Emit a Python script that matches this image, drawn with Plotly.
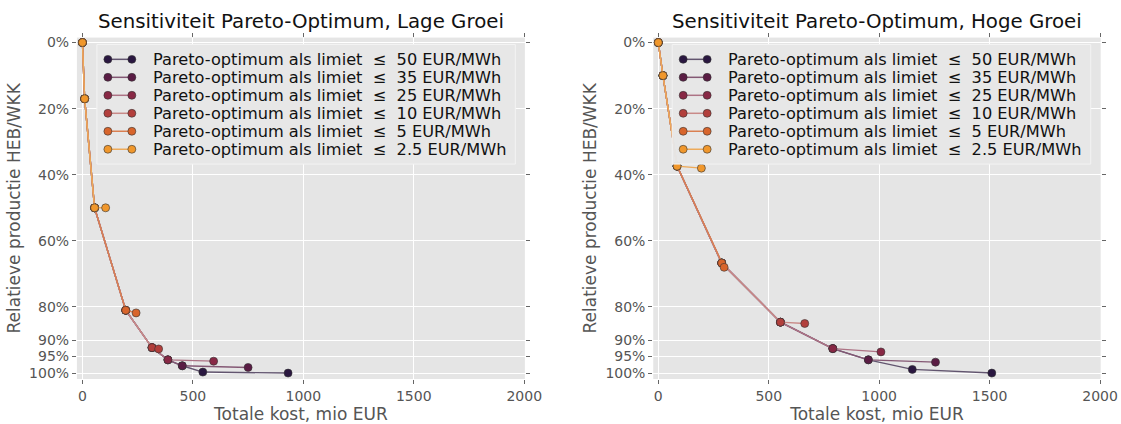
import plotly.graph_objects as go

labels = [
    "Pareto-optimum als limiet\u00a0 \u2264\u00a0 50 EUR/MWh",
    "Pareto-optimum als limiet\u00a0 \u2264\u00a0 35 EUR/MWh",
    "Pareto-optimum als limiet\u00a0 \u2264\u00a0 25 EUR/MWh",
    "Pareto-optimum als limiet\u00a0 \u2264\u00a0 10 EUR/MWh",
    "Pareto-optimum als limiet\u00a0 \u2264\u00a0 5 EUR/MWh",
    "Pareto-optimum als limiet\u00a0 \u2264\u00a0 2.5 EUR/MWh",
]
marker_colors = ["#2a1740", "#5a1c44", "#882845", "#b23f3c", "#d8652c", "#f0972c"]
line_colors = ["#62556f", "#845874", "#ad7385", "#c98a88", "#da7f51", "#edaa5a"]

# Lage Groei: cost (mio EUR) and relative production (%)
low_cost = [
    [0, 10, 55, 196, 315, 387, 452, 545, 931],
    [0, 10, 55, 196, 315, 387, 452, 750],
    [0, 10, 55, 196, 315, 387, 594],
    [0, 10, 55, 196, 315, 345],
    [0, 10, 55, 196, 243],
    [0, 10, 55, 105],
]
low_prod = [
    [0, 17, 50, 81, 92.3, 96, 97.8, 99.7, 100],
    [0, 17, 50, 81, 92.3, 96, 97.8, 98.3],
    [0, 17, 50, 81, 92.3, 96, 96.4],
    [0, 17, 50, 81, 92.3, 92.7],
    [0, 17, 50, 81, 81.8],
    [0, 17, 50, 50],
]

# Hoge Groei
high_cost = [
    [0, 21, 85, 287, 553, 790, 951, 1150, 1510],
    [0, 21, 85, 287, 553, 790, 951, 1255],
    [0, 21, 85, 287, 553, 790, 1008],
    [0, 21, 85, 287, 553, 663],
    [0, 21, 85, 287, 298],
    [0, 21, 85, 195],
]
high_prod = [
    [0, 10, 37.4, 66.7, 84.6, 92.6, 96, 98.9, 100],
    [0, 10, 37.4, 66.7, 84.6, 92.6, 96, 96.7],
    [0, 10, 37.4, 66.7, 84.6, 92.6, 93.6],
    [0, 10, 37.4, 66.7, 84.6, 85],
    [0, 10, 37.4, 66.7, 68],
    [0, 10, 37.4, 38],
]

titles = ["Sensitiviteit Pareto-Optimum, Lage Groei", "Sensitiviteit Pareto-Optimum, Hoge Groei"]
y_ticks = [0, 20, 40, 60, 80, 90, 95, 100]
y_ticklabels = ["0%", "20%", "40%", "60%", "80%", "90%", "95%", "100%"]
x_ticks = [0, 500, 1000, 1500, 2000]

FONT = "DejaVu Sans"
W, H = 1121, 424
SX = 0.986  # observed horizontal compression of the photographed page


def fx(px):
    return px / SX / W


def fy(py):
    return 1 - py / H


fig = go.Figure()

for panel, (costs, prods) in enumerate([(low_cost, low_prod), (high_cost, high_prod)]):
    xa = "x" if panel == 0 else "x2"
    ya = "y" if panel == 0 else "y2"
    for i in range(len(labels)):
        fig.add_trace(go.Scatter(
            x=costs[i], y=prods[i], mode="lines+markers", name=labels[i],
            line=dict(color=line_colors[i], width=1.4),
            marker=dict(color=marker_colors[i], size=8,
                        line=dict(color="#333333", width=0.6)),
            xaxis=xa, yaxis=ya, showlegend=False,
        ))

# matplotlib-style legend boxes (layout decoration, one per panel)
shapes = []
annotations = []
legend_boxes = [(97, 42, 516, 163), (673, 42, 1092, 163)]
row_y0, row_dy = 57, 18.2
for (bx0, by0, bx1, by1) in legend_boxes:
    shapes.append(dict(type="rect", xref="paper", yref="paper",
                       x0=fx(bx0), x1=fx(bx1), y0=fy(by1), y1=fy(by0),
                       fillcolor="rgba(230,230,230,0.97)", line=dict(color="#f3f3f3", width=1),
                       layer="above"))
    for i in range(len(labels)):
        ry = row_y0 + i * row_dy
        k0, k1 = bx0 + 11, bx0 + 35
        shapes.append(dict(type="line", xref="paper", yref="paper",
                           x0=fx(k0), x1=fx(k1), y0=fy(ry), y1=fy(ry),
                           line=dict(color=line_colors[i], width=1.5), layer="above"))
        for cx in (k0, k1):
            shapes.append(dict(type="circle", xref="paper", yref="paper",
                               x0=fx(cx - 4), x1=fx(cx + 4), y0=fy(ry + 4), y1=fy(ry - 4),
                               fillcolor=marker_colors[i], line=dict(color="#333333", width=0.6),
                               layer="above"))
        annotations.append(dict(text=labels[i], x=fx(bx0 + 54), y=fy(ry), xref="paper", yref="paper",
                                xanchor="left", yanchor="middle", showarrow=False,
                                font=dict(family=FONT, size=16.2, color="#111111")))

for t, cx in zip(titles, (301, 878)):
    annotations.append(dict(text=t, x=fx(cx), y=fy(19), xref="paper", yref="paper",
                            xanchor="center", yanchor="middle", showarrow=False,
                            font=dict(family=FONT, size=19.8, color="#111111")))

axis_common = dict(
    showgrid=True, gridcolor="white", gridwidth=1, zeroline=False,
    ticks="outside", ticklen=4, tickcolor="#666666", mirror="ticks",
    tickfont=dict(family=FONT, size=14, color="#555555"),
    showline=False,
)
xtitle = dict(text="Totale kost, mio EUR", font=dict(size=17, color="#555555"), standoff=3)
ytitle = dict(text="Relatieve productie HEB/WKK", font=dict(size=17, color="#555555"), standoff=4)

fig.update_layout(
    width=W, height=H,
    margin=dict(l=0, r=0, t=0, b=0),
    paper_bgcolor="white", plot_bgcolor="#E5E5E5",
    font=dict(family=FONT),
    showlegend=False,
    xaxis=dict(domain=[fx(77), fx(525.5)], range=[-25, 2003], tickvals=x_ticks,
               title=xtitle, anchor="y", **axis_common),
    yaxis=dict(domain=[fy(380.5), fy(35)], range=[101.8, -1.5], tickvals=y_ticks, ticktext=y_ticklabels,
               title=ytitle, anchor="x", **axis_common),
    xaxis2=dict(domain=[fx(654), fx(1102)], range=[-23, 2003], tickvals=x_ticks,
                title=xtitle, anchor="y2", **axis_common),
    yaxis2=dict(domain=[fy(380.5), fy(35)], range=[101.8, -1.5], tickvals=y_ticks, ticktext=y_ticklabels,
                title=ytitle, anchor="x2", **axis_common),
    shapes=shapes,
    annotations=annotations,
)

fig.write_html("out.html", config={"displayModeBar": False},
               post_script="document.body.style.margin='0px';")
